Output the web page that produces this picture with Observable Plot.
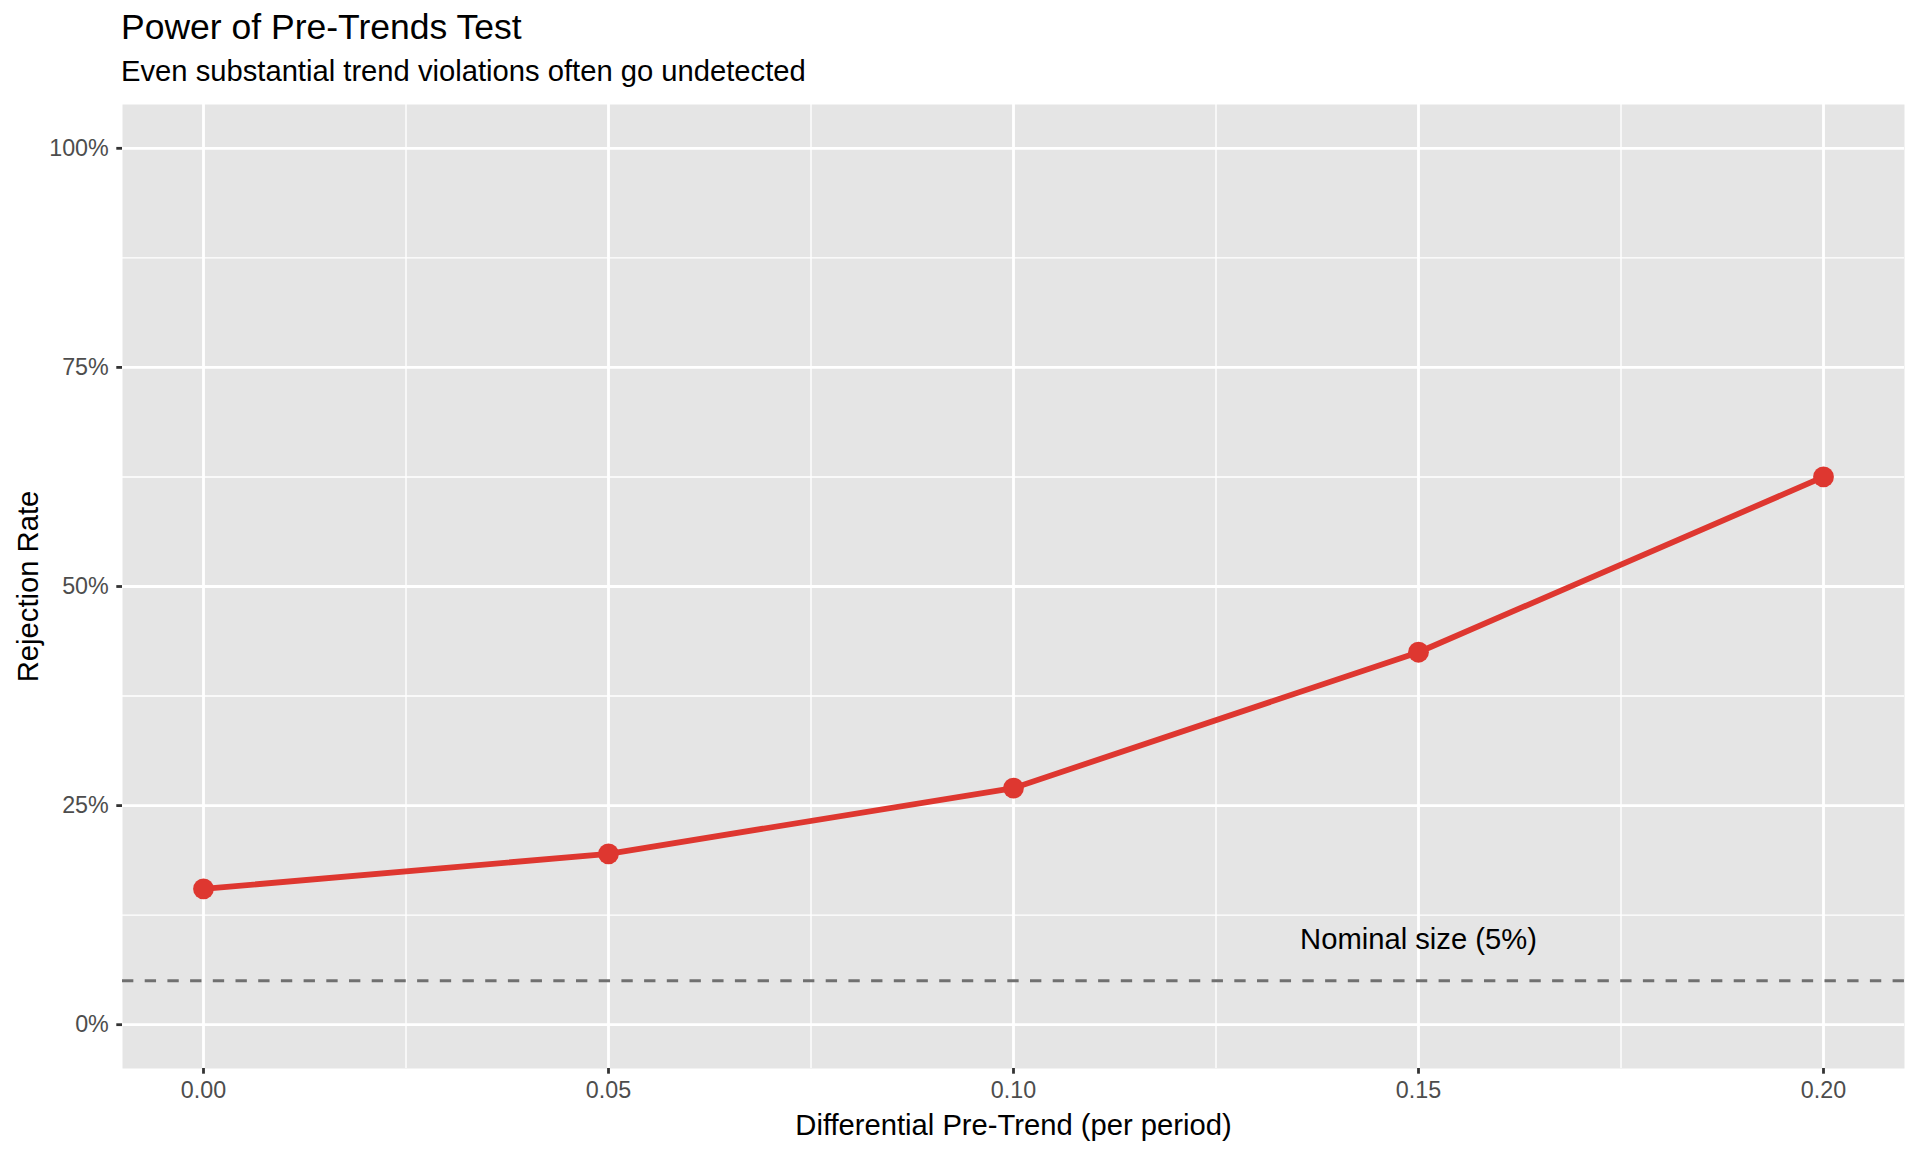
<!DOCTYPE html>
<html>
<head>
<meta charset="utf-8">
<script src="https://cdn.jsdelivr.net/npm/d3@7"></script>
<script src="https://cdn.jsdelivr.net/npm/@observablehq/plot@0.6"></script>
<style>
  html, body { margin: 0; padding: 0; background: #ffffff; }
  body { font-family: "Liberation Sans", Arial, Helvetica, sans-serif; width: 1920px; height: 1152px; overflow: hidden; }
  #header { position: relative; width: 1920px; height: 96px; }
  #title { position: absolute; left: 121px; top: 10.4px; font-size: 35.5px; line-height: 1; color: #000; white-space: nowrap; }
  #subtitle { position: absolute; left: 121px; top: 57.3px; font-size: 29.2px; line-height: 1; color: #000; white-space: nowrap; }
  #chart svg { display: block; }
</style>
</head>
<body>
<div id="header"><div id="title"></div><div id="subtitle"></div></div>
<div id="chart"></div>
<script>
// ---- Data ----
const titleText = "Power of Pre-Trends Test";
const subtitleText = "Even substantial trend violations often go undetected";
const xLabel = "Differential Pre-Trend (per period)";
const yLabel = "Rejection Rate";

const trendValues = [0.00, 0.05, 0.10, 0.15, 0.20];
const rejectionRates = [0.155, 0.195, 0.27, 0.425, 0.625];

const xTicks = [0.00, 0.05, 0.10, 0.15, 0.20];
const xTickLabels = ["0.00", "0.05", "0.10", "0.15", "0.20"];
const xMinorTicks = [0.025, 0.075, 0.125, 0.175];
const yTicks = [0, 0.25, 0.50, 0.75, 1.00];
const yTickLabels = ["0%", "25%", "50%", "75%", "100%"];
const yMinorTicks = [0.125, 0.375, 0.625, 0.875];

const nominalSize = 0.05;
const annotationX = 0.15;
const annotationY = 0.10;
const annotationText = "Nominal size (5%)";

// ---- Build ----
document.getElementById("title").textContent = titleText;
document.getElementById("subtitle").textContent = subtitleText;

const data = trendValues.map((x, i) => ({x, y: rejectionRates[i]}));
const annotation = [{x: annotationX, y: annotationY, text: annotationText}];

const FONT = "'Liberation Sans', Arial, Helvetica, sans-serif";
const RED = "#DE3730";

const chart = Plot.plot({
  width: 1920,
  height: 1056,
  marginTop: 8,
  marginBottom: 84,
  marginLeft: 122,
  marginRight: 16,
  style: {fontFamily: FONT, background: "#ffffff", color: "#000"},
  x: {domain: [-0.01, 0.21]},
  y: {domain: [-0.05, 1.05]},
  marks: [
    Plot.frame({fill: "#E5E5E5", stroke: null}),
    Plot.ruleX(xMinorTicks, {stroke: "#ffffff", strokeWidth: 1.4}),
    Plot.ruleY(yMinorTicks, {stroke: "#ffffff", strokeWidth: 1.4}),
    Plot.ruleX(xTicks, {stroke: "#ffffff", strokeWidth: 2.8}),
    Plot.ruleY(yTicks, {stroke: "#ffffff", strokeWidth: 2.8}),
    Plot.ruleY([nominalSize], {stroke: "#707070", strokeWidth: 3, strokeDasharray: "11.35,11.35"}),
    Plot.text(annotation, {x: "x", y: "y", text: "text", fontSize: 29.2, fill: "#000000", dy: 2.5}),
    Plot.line(data, {x: "x", y: "y", stroke: RED, strokeWidth: 5.8, strokeLinejoin: "round"}),
    Plot.dot(data, {x: "x", y: "y", r: 10.4, fill: RED, stroke: null}),
    Plot.axisX({
      ticks: xTicks,
      tickFormat: d => xTickLabels[xTicks.indexOf(d)],
      tickSize: 5.7, tickPadding: 7.5, fontSize: 23.3,
      stroke: "#333333", strokeWidth: 2.8, fill: "#4D4D4D",
      label: null
    }),
    Plot.axisY({
      ticks: yTicks,
      tickFormat: d => yTickLabels[yTicks.indexOf(d)],
      tickSize: 5.7, tickPadding: 8, fontSize: 23.3,
      stroke: "#333333", strokeWidth: 2.8, fill: "#4D4D4D",
      label: null
    }),
    Plot.axisX({
      ticks: [], tickSize: 0, fontSize: 29.2, fill: "#000000",
      label: xLabel, labelAnchor: "center", labelOffset: 66, labelArrow: false
    }),
    Plot.axisY({
      ticks: [], tickSize: 0, fontSize: 29.2, fill: "#000000",
      label: yLabel, labelAnchor: "center", labelOffset: 105.7, labelArrow: false
    })
  ]
});

document.getElementById("chart").appendChild(chart);
</script>
</body>
</html>
